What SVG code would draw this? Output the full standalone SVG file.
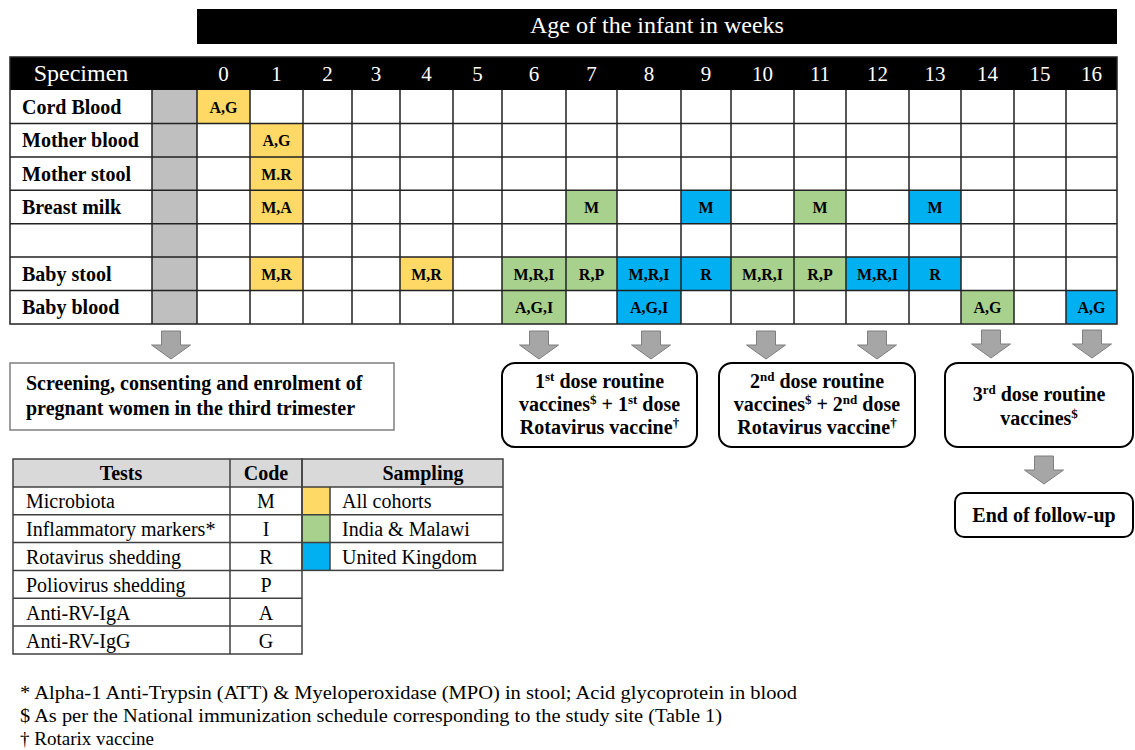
<svg xmlns="http://www.w3.org/2000/svg" width="1135" height="750" viewBox="0 0 1135 750">
<style>
text{font-family:"Liberation Serif","Times New Roman",serif;fill:#000}
.hdr{fill:#fff;font-size:21px;text-anchor:middle}
.lbl{font-size:20px;font-weight:bold}
.cell{font-size:16px;font-weight:bold;text-anchor:middle}
.grid{stroke:#222;stroke-width:1.5;fill:none}
.Y{fill:#FFD966}.G{fill:#A9D18E}.B{fill:#00B0F0}
.arrow{fill:#A6A6A6;stroke:#7F7F7F;stroke-width:1}
.box{fill:#fff;stroke:#000;stroke-width:2}
.bt{font-size:20px;font-weight:bold;text-anchor:middle}
.lg{font-size:20px}
.lgb{font-size:20px;font-weight:bold;text-anchor:middle}
.lgl{stroke:#404040;stroke-width:1.5;fill:none}
.fn{font-size:19px}
</style>
<defs>
<path id="arr" d="M-9.5,0 H9.5 V14 H19.5 L0,28 L-19.5,14 H-9.5 Z"/>
</defs>

<g id="age-header">
<rect x="197" y="9" width="920" height="35" fill="#000"/>
<text x="657" y="33" class="hdr" style="font-size:24px">Age of the infant in weeks</text>
</g>

<g id="schedule-table">
<rect x="10" y="57" width="1107" height="33" fill="#000"/>
<text x="81" y="81" class="hdr" style="font-size:24px">Specimen</text>
<text x="223.5" y="81" class="hdr">0</text>
<text x="276.5" y="81" class="hdr">1</text>
<text x="327.5" y="81" class="hdr">2</text>
<text x="376" y="81" class="hdr">3</text>
<text x="426.5" y="81" class="hdr">4</text>
<text x="477.5" y="81" class="hdr">5</text>
<text x="534" y="81" class="hdr">6</text>
<text x="591.5" y="81" class="hdr">7</text>
<text x="649" y="81" class="hdr">8</text>
<text x="706" y="81" class="hdr">9</text>
<text x="762.5" y="81" class="hdr">10</text>
<text x="820" y="81" class="hdr">11</text>
<text x="877.5" y="81" class="hdr">12</text>
<text x="935" y="81" class="hdr">13</text>
<text x="987.5" y="81" class="hdr">14</text>
<text x="1040" y="81" class="hdr">15</text>
<text x="1091.5" y="81" class="hdr">16</text>

<rect x="152" y="90" width="45" height="234" fill="#BFBFBF"/>
<rect class="Y" x="197" y="90" width="53" height="33.4"/>
<rect class="Y" x="250" y="123.4" width="53" height="33.5"/>
<rect class="Y" x="250" y="156.9" width="53" height="33.4"/>
<rect class="Y" x="250" y="190.3" width="53" height="33.4"/>
<rect class="G" x="566" y="190.3" width="51" height="33.4"/>
<rect class="B" x="681" y="190.3" width="50" height="33.4"/>
<rect class="G" x="794" y="190.3" width="52" height="33.4"/>
<rect class="B" x="909" y="190.3" width="52" height="33.4"/>
<rect class="Y" x="250" y="257.1" width="53" height="33.5"/>
<rect class="Y" x="400" y="257.1" width="53" height="33.5"/>
<rect class="G" x="502" y="257.1" width="64" height="33.5"/>
<rect class="G" x="566" y="257.1" width="51" height="33.5"/>
<rect class="B" x="617" y="257.1" width="64" height="33.5"/>
<rect class="B" x="681" y="257.1" width="50" height="33.5"/>
<rect class="G" x="731" y="257.1" width="63" height="33.5"/>
<rect class="G" x="794" y="257.1" width="52" height="33.5"/>
<rect class="B" x="846" y="257.1" width="63" height="33.5"/>
<rect class="B" x="909" y="257.1" width="52" height="33.5"/>
<rect class="G" x="502" y="290.6" width="64" height="33.4"/>
<rect class="B" x="617" y="290.6" width="64" height="33.4"/>
<rect class="G" x="961" y="290.6" width="53" height="33.4"/>
<rect class="B" x="1066" y="290.6" width="51" height="33.4"/>

<g class="grid">
<path d="M10,123.4H1117M10,156.9H1117M10,190.3H1117M10,223.7H1117M10,257.1H1117M10,290.6H1117"/>
<path d="M152,90V324M197,90V324M250,90V324M303,90V324M352,90V324M400,90V324M453,90V324M502,90V324M566,90V324M617,90V324M681,90V324M731,90V324M794,90V324M846,90V324M909,90V324M961,90V324M1014,90V324M1066,90V324"/>
<rect x="10" y="57" width="1107" height="267"/>
</g>

<text x="22" y="113.5" class="lbl">Cord Blood</text>
<text x="22" y="147" class="lbl">Mother blood</text>
<text x="22" y="180.5" class="lbl">Mother stool</text>
<text x="22" y="214" class="lbl">Breast milk</text>
<text x="22" y="281" class="lbl">Baby stool</text>
<text x="22" y="314" class="lbl">Baby blood</text>

<text x="223.5" y="112.5" class="cell">A,G</text>
<text x="276.5" y="146" class="cell">A,G</text>
<text x="276.5" y="179.5" class="cell">M.R</text>
<text x="276.5" y="213" class="cell">M,A</text>
<text x="591.5" y="213" class="cell">M</text>
<text x="706" y="213" class="cell">M</text>
<text x="820" y="213" class="cell">M</text>
<text x="935" y="213" class="cell">M</text>
<text x="276.5" y="279.5" class="cell">M,R</text>
<text x="426.5" y="279.5" class="cell">M,R</text>
<text x="534" y="279.5" class="cell">M,R,I</text>
<text x="591.5" y="279.5" class="cell">R,P</text>
<text x="649" y="279.5" class="cell">M,R,I</text>
<text x="706" y="279.5" class="cell">R</text>
<text x="762.5" y="279.5" class="cell">M,R,I</text>
<text x="820" y="279.5" class="cell">R,P</text>
<text x="877.5" y="279.5" class="cell">M,R,I</text>
<text x="935" y="279.5" class="cell">R</text>
<text x="534" y="313" class="cell">A,G,I</text>
<text x="649" y="313" class="cell">A,G,I</text>
<text x="987.5" y="313" class="cell">A,G</text>
<text x="1091.5" y="313" class="cell">A,G</text>
</g>

<g id="connectors">
<use href="#arr" class="arrow" x="171" y="331"/>
<use href="#arr" class="arrow" x="539" y="331"/>
<use href="#arr" class="arrow" x="651" y="331"/>
<use href="#arr" class="arrow" x="766" y="331"/>
<use href="#arr" class="arrow" x="877" y="331"/>
<use href="#arr" class="arrow" x="991" y="330"/>
<use href="#arr" class="arrow" x="1092" y="330"/>
<use href="#arr" class="arrow" x="1044" y="456"/>
</g>

<g id="screening">
<rect x="10" y="363" width="384" height="67" fill="#fff" stroke="#7F7F7F" stroke-width="1.5"/>
<text x="26" y="390" class="lbl">Screening, consenting and enrolment of</text>
<text x="26" y="415" class="lbl">pregnant women in the third trimester</text>
</g>

<g id="dose1">
<rect class="box" x="502" y="363" width="195" height="84" rx="13"/>
<text class="bt" x="599.5" y="388">1<tspan font-size="13" dy="-7">st</tspan><tspan dy="7"> dose routine</tspan></text>
<text class="bt" x="599.5" y="411">vaccines<tspan font-size="13" dy="-7">$</tspan><tspan dy="7"> + 1</tspan><tspan font-size="13" dy="-7">st</tspan><tspan dy="7"> dose</tspan></text>
<text class="bt" x="599.5" y="434">Rotavirus vaccine<tspan font-size="13" dy="-7">†</tspan></text>
</g>

<g id="dose2">
<rect class="box" x="719" y="363" width="196" height="84" rx="13"/>
<text class="bt" x="817" y="388">2<tspan font-size="13" dy="-7">nd</tspan><tspan dy="7"> dose routine</tspan></text>
<text class="bt" x="817" y="411">vaccines<tspan font-size="13" dy="-7">$</tspan><tspan dy="7"> + 2</tspan><tspan font-size="13" dy="-7">nd</tspan><tspan dy="7"> dose</tspan></text>
<text class="bt" x="817" y="434">Rotavirus vaccine<tspan font-size="13" dy="-7">†</tspan></text>
</g>

<g id="dose3">
<rect class="box" x="945" y="363" width="188" height="84" rx="13"/>
<text class="bt" x="1039" y="401">3<tspan font-size="13" dy="-7">rd</tspan><tspan dy="7"> dose routine</tspan></text>
<text class="bt" x="1039" y="425">vaccines<tspan font-size="13" dy="-7">$</tspan></text>
</g>

<g id="end-follow-up">
<rect class="box" x="955" y="493" width="178" height="44" rx="9"/>
<text class="bt" x="1044" y="522">End of follow-up</text>
</g>

<g id="legend">
<rect x="13" y="459" width="490" height="27.9" fill="#D9D9D9"/>
<rect class="Y" x="302" y="486.9" width="28" height="27.8"/>
<rect class="G" x="302" y="514.7" width="28" height="27.9"/>
<rect class="B" x="302" y="542.6" width="28" height="27.8"/>
<g class="lgl">
<rect x="13" y="459" width="289" height="195"/>
<rect x="302" y="459" width="201" height="111.4"/>
<path d="M13,486.9H503M13,514.7H503M13,542.6H503M13,570.4H302M13,598.3H302M13,626.1H302M230,459V654M330,486.9V570.4"/>
</g>
<text x="121" y="480" class="lgb">Tests</text>
<text x="266" y="480" class="lgb">Code</text>
<text x="423" y="480" class="lgb">Sampling</text>
<text x="26" y="507.5" class="lg">Microbiota</text>
<text x="26" y="535.5" class="lg">Inflammatory markers*</text>
<text x="26" y="563.5" class="lg">Rotavirus shedding</text>
<text x="26" y="591.5" class="lg">Poliovirus shedding</text>
<text x="26" y="619.5" class="lg">Anti-RV-IgA</text>
<text x="26" y="647.5" class="lg">Anti-RV-IgG</text>
<text x="266" y="507.5" class="lg" text-anchor="middle">M</text>
<text x="266" y="535.5" class="lg" text-anchor="middle">I</text>
<text x="266" y="563.5" class="lg" text-anchor="middle">R</text>
<text x="266" y="591.5" class="lg" text-anchor="middle">P</text>
<text x="266" y="619.5" class="lg" text-anchor="middle">A</text>
<text x="266" y="647.5" class="lg" text-anchor="middle">G</text>
<text x="342" y="507.5" class="lg">All cohorts</text>
<text x="342" y="535.5" class="lg">India &amp; Malawi</text>
<text x="342" y="563.5" class="lg">United Kingdom</text>
</g>

<g id="footnotes">
<text x="20" y="699" class="fn" textLength="777" lengthAdjust="spacingAndGlyphs">* Alpha-1 Anti-Trypsin (ATT) &amp; Myeloperoxidase (MPO) in stool; Acid glycoprotein in blood</text>
<text x="20" y="722" class="fn" textLength="702" lengthAdjust="spacingAndGlyphs">$ As per the National immunization schedule corresponding to the study site (Table 1)</text>
<text x="20" y="745" class="fn" textLength="134" lengthAdjust="spacingAndGlyphs">† Rotarix vaccine</text>
</g>
</svg>
